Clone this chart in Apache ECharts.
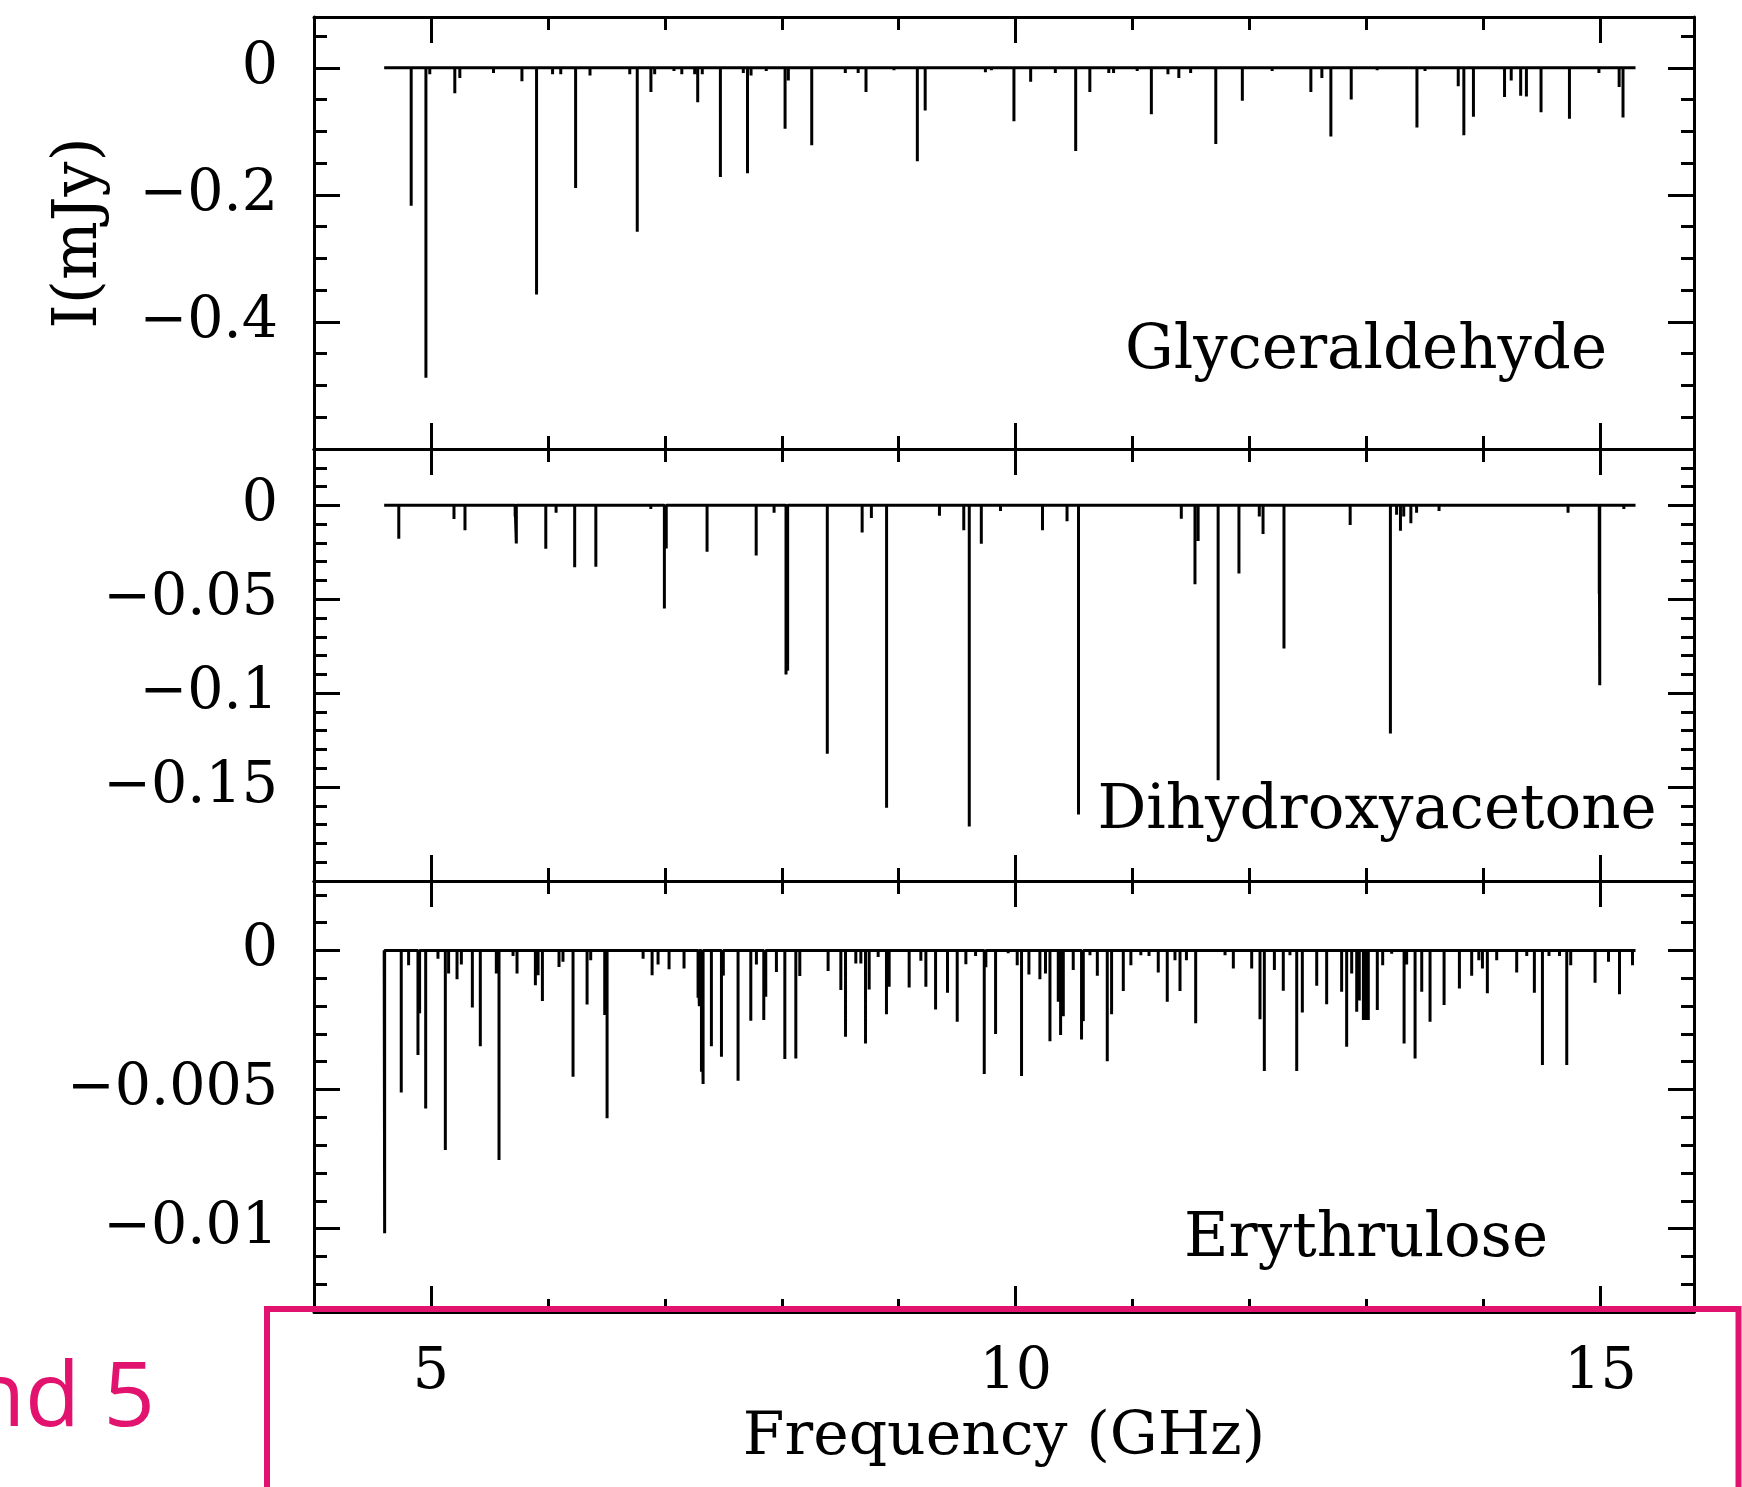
<!DOCTYPE html>
<html>
<head>
<meta charset="utf-8">
<script src="https://cdn.jsdelivr.net/npm/echarts@6.0.0/dist/echarts.min.js"></script>
<style>
html,body{margin:0;padding:0;background:#fff;}
#chart{width:1742px;height:1487px;}
</style>
</head>
<body>
<div id="chart"></div>
<script>
// ---------------- data ----------------
const xRange = [4, 15.8];
const spanGHz = [4.6, 15.3];
const xMajorTicks = [5, 10, 15];
const xMinorStep = 1;
const panelNames = ['Glyceraldehyde', 'Dihydroxyacetone', 'Erythrulose'];
const yRanges = [[-0.6, 0.08], [-0.2, 0.03], [-0.013, 0.0025]];
const yMajorTicks = [[0, -0.2, -0.4], [0, -0.05, -0.1, -0.15], [0, -0.005, -0.01]];
const yMinorSteps = [0.05, 0.01, 0.001];
const xTitle = 'Frequency (GHz)';
const yTitle = 'I(mJy)';

const glyFreq = [4.831,4.957,4.99,5.204,5.247,5.535,5.778,5.903,6.04,6.11,6.237,6.36,6.70,6.764,6.881,6.913,7.078,7.145,7.255,7.281,7.32,7.475,7.671,7.707,7.737,7.867,8.028,8.056,8.256,8.543,8.653,8.72,8.959,9.159,9.226,9.741,9.792,9.985,10.128,10.339,10.513,10.634,10.796,10.837,11.039,11.16,11.302,11.395,11.496,11.711,11.938,12.193,12.524,12.618,12.695,12.869,13.091,13.431,13.5,13.784,13.832,13.914,14.18,14.237,14.318,14.367,14.492,14.735,14.987,15.16,15.193];
const glyInt = [-0.217,-0.488,-0.01,-0.04,-0.016,-0.008,-0.021,-0.357,-0.01,-0.01,-0.189,-0.012,-0.01,-0.258,-0.038,-0.01,-0.005,-0.01,-0.01,-0.054,-0.01,-0.172,-0.008,-0.166,-0.012,-0.005,-0.096,-0.02,-0.122,-0.008,-0.008,-0.038,-0.004,-0.147,-0.067,-0.007,-0.004,-0.084,-0.022,-0.008,-0.131,-0.038,-0.008,-0.008,-0.005,-0.073,-0.01,-0.016,-0.008,-0.12,-0.052,-0.005,-0.038,-0.016,-0.108,-0.05,-0.004,-0.094,-0.005,-0.029,-0.106,-0.077,-0.046,-0.02,-0.044,-0.045,-0.07,-0.08,-0.008,-0.03,-0.078];

const dhaFreq = [4.725,5.197,5.291,5.72,5.73,5.982,6.07,6.229,6.41,6.88,6.996,7.012,7.361,7.781,7.934,8.036,8.05,8.389,8.687,8.766,8.896,9.348,9.556,9.603,9.706,9.87,10.229,10.439,10.537,11.416,11.533,11.56,11.731,11.909,12.083,12.115,12.294,12.86,13.204,13.257,13.29,13.318,13.379,13.428,13.62,14.723,14.99,14.994,15.2];
const dhaInt = [-0.0178,-0.0073,-0.0132,-0.006,-0.0203,-0.0231,-0.004,-0.033,-0.0327,-0.002,-0.0549,-0.023,-0.0247,-0.0267,-0.004,-0.0901,-0.088,-0.1322,-0.0144,-0.0067,-0.161,-0.0055,-0.0132,-0.171,-0.0204,-0.003,-0.0132,-0.0084,-0.1646,-0.0071,-0.042,-0.019,-0.1464,-0.0363,-0.006,-0.0153,-0.0762,-0.0105,-0.1215,-0.005,-0.0135,-0.006,-0.0095,-0.004,-0.003,-0.004,-0.047,-0.0958,-0.002];

const eryFreq = [4.604,4.746,4.809,4.889,4.903,4.955,5.06,5.123,5.151,5.223,5.26,5.354,5.422,5.559,5.582,5.702,5.736,5.893,5.916,5.953,6.095,6.129,6.215,6.335,6.366,6.486,6.506,6.814,6.891,6.942,7.036,7.164,7.284,7.295,7.313,7.327,7.398,7.484,7.5,7.626,7.735,7.783,7.846,7.863,7.954,8.026,8.12,8.154,8.396,8.505,8.545,8.633,8.676,8.716,8.747,8.824,8.895,8.918,9.089,9.189,9.232,9.315,9.417,9.5,9.574,9.657,9.731,9.745,9.828,9.936,10.013,10.05,10.113,10.207,10.255,10.293,10.364,10.384,10.407,10.492,10.563,10.578,10.635,10.698,10.783,10.82,10.92,10.985,11.07,11.14,11.219,11.296,11.362,11.405,11.46,11.539,11.79,11.861,12.018,12.089,12.126,12.212,12.288,12.345,12.403,12.451,12.574,12.659,12.787,12.83,12.873,12.916,12.938,12.973,12.995,13.015,13.092,13.138,13.215,13.321,13.343,13.415,13.472,13.543,13.663,13.794,13.899,13.96,13.991,14.033,14.113,14.284,14.37,14.435,14.504,14.56,14.65,14.712,14.746,14.954,15.069,15.163,15.274];
const eryInt = [-0.01017,-0.00511,-0.00053,-0.00376,-0.00226,-0.00568,-0.0003,-0.00717,-0.00083,-0.00103,-0.0005,-0.00205,-0.00344,-0.00083,-0.00753,-0.0002,-0.00083,-0.00125,-0.00089,-0.00182,-0.00059,-0.0004,-0.00454,-0.00194,-0.00035,-0.00232,-0.00603,-0.0003,-0.00089,-0.0005,-0.00067,-0.00065,-0.0017,-0.002,-0.00436,-0.0048,-0.00344,-0.00382,-0.0009,-0.00468,-0.00253,-0.0005,-0.0025,-0.00166,-0.00077,-0.0039,-0.00388,-0.00092,-0.00074,-0.00142,-0.0031,-0.00047,-0.00047,-0.00334,-0.0014,-0.00023,-0.00229,-0.0013,-0.00133,-0.00037,-0.0013,-0.00212,-0.00152,-0.00256,-0.00049,-0.0002,-0.00444,-0.0006,-0.003,-0.0001,-0.00053,-0.00451,-0.00086,-0.00103,-0.00083,-0.00326,-0.00184,-0.00304,-0.00236,-0.0007,-0.0032,-0.00254,-0.00017,-0.00091,-0.00398,-0.00229,-0.00146,-0.00053,-0.00017,-0.0002,-0.00079,-0.00184,-0.00035,-0.00146,-0.00035,-0.00262,-0.00017,-0.00065,-0.00065,-0.00247,-0.00433,-0.0007,-0.00145,-0.00017,-0.00433,-0.00223,-0.00127,-0.00193,-0.00148,-0.00346,-0.00083,-0.0022,-0.0018,-0.0025,-0.0025,-0.0025,-0.00214,-0.00053,-0.00012,-0.00334,-0.0005,-0.00388,-0.00148,-0.00256,-0.00196,-0.00137,-0.00091,-0.00035,-0.00065,-0.00154,-0.00035,-0.00079,-0.0002,-0.00152,-0.00412,-0.0002,-0.0002,-0.00412,-0.00053,-0.00116,-0.0004,-0.00157,-0.00053];

const overlayText = 'nd 5';

// ---------------- build ----------------
const FONT = '"DejaVu Serif", "Liberation Serif", serif';
const INK = '#000';
const PINK = '#E2136F';
const gridBox = [
  {left: 314, top: 17, width: 1380, height: 432},
  {left: 314, top: 449, width: 1380, height: 432},
  {left: 314, top: 881, width: 1380, height: 431}
];
const spectra = [[glyFreq, glyInt], [dhaFreq, dhaInt], [eryFreq, eryInt]];

function spectrum(freq, inten) {
  const order = freq.map((f, i) => i).sort((a, b) => freq[a] - freq[b]);
  const d = [[spanGHz[0], 0]];
  order.forEach(i => { d.push([freq[i], 0], [freq[i], inten[i]], [freq[i], 0]); });
  d.push([spanGHz[1], 0]);
  return d;
}
const fmt = v => (Math.abs(v) < 1e-12 ? '0' : (v < 0 ? '\u2212' : '') + String(Math.abs(v)));

const lineSty = {color: INK, width: 3};
const xAxis = [], yAxis = [], series = [];
for (let g = 0; g < 3; g++) {
  ['bottom', 'top'].forEach(pos => {
    const isMain = pos === 'bottom';
    xAxis.push({
      type: 'value', gridIndex: g, position: pos, min: xRange[0], max: xRange[1],
      axisLine: {show: true, onZero: false, lineStyle: lineSty},
      axisTick: {show: true, inside: true, length: 26, customValues: xMajorTicks, lineStyle: lineSty},
      axisLabel: {show: isMain && g === 2, customValues: xMajorTicks, margin: 33,
        fontFamily: FONT, fontSize: 57, color: INK, formatter: fmt},
      splitLine: {show: false},
      name: (isMain && g === 2) ? xTitle : '',
      nameLocation: 'middle', nameGap: 96,
      nameTextStyle: {fontFamily: FONT, fontSize: 60, color: INK}
    });
    xAxis.push({
      type: 'value', gridIndex: g, position: pos, min: xRange[0], max: xRange[1], interval: xMinorStep,
      axisLine: {show: false, onZero: false},
      axisTick: {show: true, inside: true, length: 13, lineStyle: lineSty},
      axisLabel: {show: false}, splitLine: {show: false}
    });
  });
  ['left', 'right'].forEach(pos => {
    const isMain = pos === 'left';
    yAxis.push({
      type: 'value', gridIndex: g, position: pos, min: yRanges[g][0], max: yRanges[g][1],
      axisLine: {show: true, onZero: false, lineStyle: lineSty},
      axisTick: {show: true, inside: true, length: 26, customValues: yMajorTicks[g], lineStyle: lineSty},
      axisLabel: {show: isMain, customValues: yMajorTicks[g], margin: 36,
        fontFamily: FONT, fontSize: 57, color: INK, formatter: fmt},
      splitLine: {show: false},
      name: (isMain && g === 0) ? yTitle : '',
      nameLocation: 'middle', nameRotate: 90, nameGap: 203,
      nameTextStyle: {fontFamily: FONT, fontSize: 62, color: INK}
    });
    yAxis.push({
      type: 'value', gridIndex: g, position: pos, min: yRanges[g][0], max: yRanges[g][1], interval: yMinorSteps[g],
      axisLine: {show: false, onZero: false},
      axisTick: {show: true, inside: true, length: 13, lineStyle: lineSty},
      axisLabel: {show: false}, splitLine: {show: false}
    });
  });
  series.push({
    type: 'line', name: panelNames[g], xAxisIndex: 4 * g, yAxisIndex: 4 * g,
    data: spectrum(spectra[g][0], spectra[g][1]),
    showSymbol: false, symbol: 'none', animation: false, sampling: null, clip: true,
    lineStyle: {color: INK, width: 3, join: 'bevel'}
  });
}

const labelPos = [[1366, 352], [1377, 812], [1366, 1240]];
const graphic = panelNames.map((n, g) => ({
  type: 'text', x: labelPos[g][0], y: labelPos[g][1], z: 50,
  style: {text: n, fontFamily: FONT, fontSize: 61, fill: INK, align: 'center', verticalAlign: 'middle'}
}));
graphic.push({
  type: 'rect', z: 100,
  shape: {x: 267, y: 1309, width: 1471.5, height: 400},
  style: {fill: 'none', stroke: PINK, lineWidth: 6}
});
graphic.push({
  type: 'text', x: 155, y: 1400, z: 100,
  style: {text: overlayText, fontFamily: '"Open Sans", "Noto Sans", sans-serif', fontSize: 90,
    fill: PINK, align: 'right', verticalAlign: 'middle'}
});

const chart = echarts.init(document.getElementById('chart'), null, {renderer: 'canvas'});
chart.setOption({
  backgroundColor: '#fff',
  animation: false,
  grid: gridBox.map(b => Object.assign({containLabel: false}, b)),
  xAxis, yAxis, series, graphic
});
</script>
</body>
</html>
